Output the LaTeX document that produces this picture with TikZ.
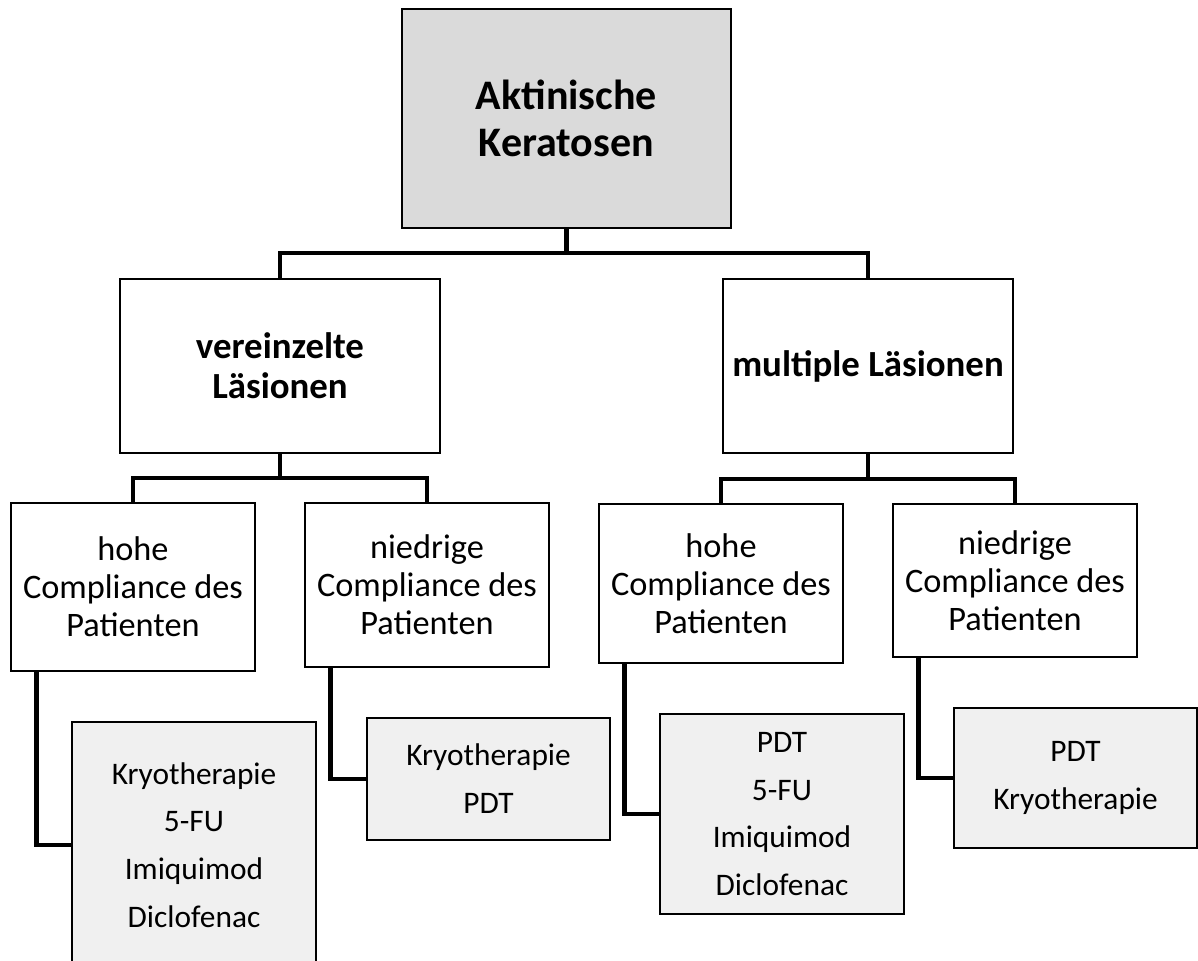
\documentclass[tikz,border=0pt]{standalone}
\usepackage{fontspec}
\setmainfont{Carlito}
\usepackage{tikz}
\usetikzlibrary{calc,positioning}

\definecolor{topgray}{HTML}{DADADA}
\definecolor{leafgray}{HTML}{F0F0F0}

\begin{document}
\begin{tikzpicture}[x=0.025cm, y=-0.025cm,
    box/.style 2 args={rectangle, draw=black, line width=1.5pt, inner sep=0pt, outer sep=0pt,
    align=center, minimum width=#1*0.025cm, minimum height=#2*0.025cm},
    rootbox/.style={fill=topgray, font=\bfseries\fontsize{29.9}{33.4}\selectfont},
    groupbox/.style={fill=white, font=\bfseries\fontsize{26.2}{28.5}\selectfont},
    compbox/.style={fill=white, font=\fontsize{24.4}{27}\selectfont},
    therapy/.style={fill=leafgray, font=\fontsize{22.3}{34}\selectfont},
    conn/.style={draw=black, line width=3.4pt},
    ]
    \useasboundingbox (0,0) rectangle (1198,961);
    \clip (0,0) rectangle (1198,961);

    % oberste Ebene
    \node (root) [box={329}{219}, rootbox] at (566.5,118.5) {Aktinische\\Keratosen};

    % Art der Laesionen
    \node (single) [box={320}{174}, groupbox] at (280,366) {vereinzelte\\Läsionen};
    \node (multi) [box={290}{174}, groupbox] at (868,366) {multiple Läsionen};

    % Compliance
    \node (singleHigh) [box={244}{168}, compbox] at (133,587) {hohe\\Compliance des\\Patienten};
    \node (singleLow) [box={244}{164}, compbox] at (427,585) {niedrige\\Compliance des\\Patienten};
    \node (multiHigh) [box={244}{159}, compbox] at (721,583.5) {hohe\\Compliance des\\Patienten};
    \node (multiLow) [box={244}{153}, compbox] at (1015,580.5) {niedrige\\Compliance des\\Patienten};

    % Therapien
    \node (singleHighTh) [box={244}{246}, therapy] at (194,845) {Kryotherapie\\5-FU\\Imiquimod\\Diclofenac};
    \node (singleLowTh) [box={243}{122}, therapy] at (488.5,779) {Kryotherapie\\PDT};
    \node (multiHighTh) [box={244}{200}, therapy] at (782,814) {PDT\\5-FU\\Imiquimod\\Diclofenac};
    \node (multiLowTh) [box={243}{140}, therapy] at (1075.5,778) {PDT\\Kryotherapie};

    \draw [conn] (root.south) -- ++(0,25) -| (single.north);
    \draw [conn] (root.south) -- ++(0,25) -| (multi.north);
    \draw [conn] (single.south) -- ++(0,25) -| (singleHigh.north);
    \draw [conn] (single.south) -- ++(0,25) -| (singleLow.north);
    \draw [conn] (multi.south) -- ++(0,26) -| (multiHigh.north);
    \draw [conn] (multi.south) -- ++(0,26) -| (multiLow.north);

    \draw [conn] ([xshift=0.64cm]singleHigh.south west) |- (singleHighTh.west);
    \draw [conn] ([xshift=0.64cm]singleLow.south west) |- (singleLowTh.west);
    \draw [conn] ([xshift=0.64cm]multiHigh.south west) |- (multiHighTh.west);
    \draw [conn] ([xshift=0.64cm]multiLow.south west) |- (multiLowTh.west);
\end{tikzpicture}
\end{document}
